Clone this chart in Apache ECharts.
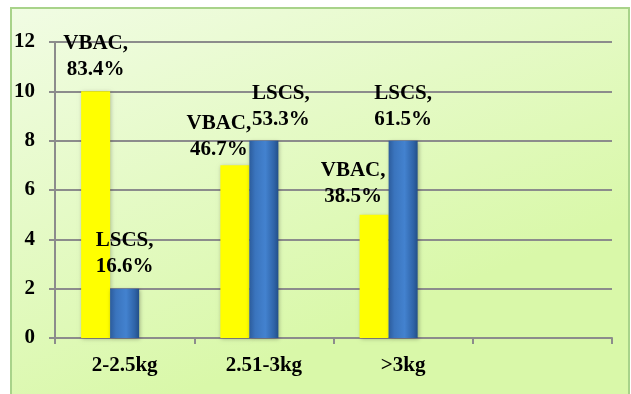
<!DOCTYPE html>
<html>
<head>
<meta charset="utf-8">
<script src="https://cdn.jsdelivr.net/npm/echarts@6/dist/echarts.min.js"></script>
<style>
  html, body { margin: 0; padding: 0; background: #ffffff; }
  #chart { width: 631px; height: 394px; }
</style>
</head>
<body>
<div id="chart"></div>
<script>
// Birth-weight groups and delivery counts
const categories = ['2-2.5kg', '2.51-3kg', '>3kg', ''];
const vbacCounts = [10, 7, 5, null];
const lscsCounts = [2, 8, 8, null];
const vbacPercent = ['83.4%', '46.7%', '38.5%', ''];
const lscsPercent = ['16.6%', '53.3%', '61.5%', ''];
const yTicks = [0, 2, 4, 6, 8, 10, 12];

// Per-label nudges so the value labels sit where they read best
const vbacLabelOffset = [[0, -4], [-16, 2], [-21, 0], [0, 0]];
const lscsLabelOffset = [[0, -4], [17, -3], [0, -3], [0, 0]];

const FONT = 'Liberation Serif, Times New Roman, serif';
const FONT_SIZE = 21;
const GRID_COLOR = '#8c8c8c';

const labelBase = {
  show: true,
  position: 'top',
  distance: 5,
  fontFamily: FONT,
  fontWeight: 'bold',
  fontSize: FONT_SIZE,
  lineHeight: 26,
  color: '#000000'
};

function buildData(values, name, percents, offsets) {
  return values.map((v, i) => ({
    value: v,
    label: v == null ? { show: false } : Object.assign({}, labelBase, {
      offset: offsets[i],
      formatter: name + ',\n' + percents[i]
    })
  }));
}

const chart = echarts.init(document.getElementById('chart'), null, { renderer: 'canvas' });

chart.setOption({
  animation: false,
  backgroundColor: '#ffffff',
  graphic: [{
    type: 'rect',
    z: -10,
    silent: true,
    shape: { x: 11, y: 8, width: 618, height: 392 },
    style: {
      fill: {
        type: 'linear', x: 0, y: 0, x2: 0.25, y2: 1,
        colorStops: [
          { offset: 0, color: '#f1fce4' },
          { offset: 1, color: '#d9f8a9' }
        ]
      },
      stroke: '#a8d38a',
      lineWidth: 2
    }
  }],
  grid: { left: 55, right: 19, top: 42, bottom: 56, containLabel: false },
  xAxis: {
    type: 'category',
    data: categories,
    axisLine: { show: true, lineStyle: { color: GRID_COLOR, width: 2 } },
    axisTick: { show: true, alignWithLabel: false, length: 6, lineStyle: { color: GRID_COLOR, width: 2 } },
    axisLabel: {
      margin: 17,
      fontFamily: FONT,
      fontWeight: 'bold',
      fontSize: FONT_SIZE,
      color: '#000000'
    },
    splitLine: { show: false }
  },
  yAxis: {
    type: 'value',
    min: yTicks[0],
    max: yTicks[yTicks.length - 1],
    interval: yTicks[1] - yTicks[0],
    axisLine: { show: true, lineStyle: { color: GRID_COLOR, width: 2 } },
    axisTick: { show: true, length: 6, lineStyle: { color: GRID_COLOR, width: 2 } },
    axisLabel: {
      margin: 20,
      fontFamily: FONT,
      fontWeight: 'bold',
      fontSize: FONT_SIZE,
      color: '#000000'
    },
    splitLine: { show: true, lineStyle: { color: GRID_COLOR, width: 2 } }
  },
  series: [
    {
      name: 'VBAC',
      type: 'bar',
      barWidth: 29,
      barGap: '0%',
      itemStyle: {
        color: '#ffff00',
        shadowColor: 'rgba(0,0,0,0.25)',
        shadowBlur: 4,
        shadowOffsetX: 1,
        shadowOffsetY: 1
      },
      data: buildData(vbacCounts, 'VBAC', vbacPercent, vbacLabelOffset)
    },
    {
      name: 'LSCS',
      type: 'bar',
      barWidth: 29,
      barGap: '0%',
      itemStyle: {
        color: {
          type: 'linear', x: 0, y: 0, x2: 1, y2: 0,
          colorStops: [
            { offset: 0, color: '#2c5c9c' },
            { offset: 0.2, color: '#3a74bd' },
            { offset: 0.55, color: '#4382cf' },
            { offset: 0.85, color: '#2f64a8' },
            { offset: 1, color: '#234f88' }
          ]
        },
        shadowColor: 'rgba(0,0,0,0.3)',
        shadowBlur: 4,
        shadowOffsetX: 1,
        shadowOffsetY: 1
      },
      data: buildData(lscsCounts, 'LSCS', lscsPercent, lscsLabelOffset)
    },
    {
      // unused third slot in each group
      name: '',
      type: 'bar',
      barWidth: 29,
      barGap: '0%',
      data: [null, null, null, null]
    }
  ]
});
</script>
</body>
</html>
